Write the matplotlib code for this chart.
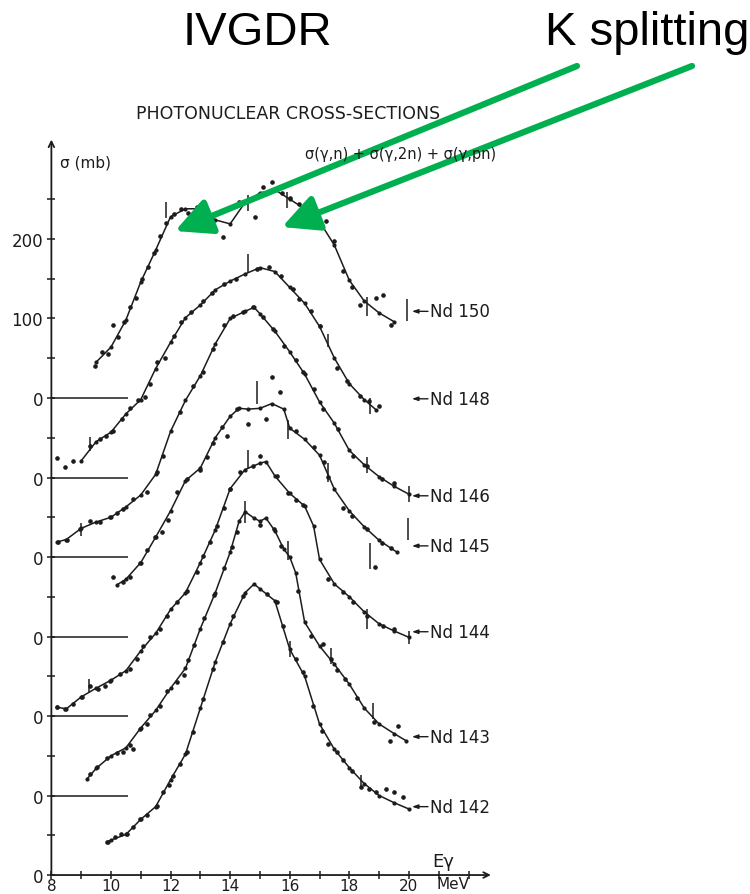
import numpy as np
import matplotlib
matplotlib.use('Agg')
import matplotlib.pyplot as plt

# Photonuclear cross sections sigma(g,n)+sigma(g,2n)+sigma(g,pn) for the Nd isotopes.
# Each isotope is stacked 100 mb above the previous one.

# Nd 142 (offset 0 mb)
nd142_E = [9.9, 10.0, 10.5, 11.0, 11.5, 12.0, 12.5, 13.0, 13.5, 14.0, 14.5, 14.8, 15.0,
           15.5, 16.0, 16.5, 17.0, 17.5, 18.0, 18.5, 19.0, 19.5, 20.0]
nd142_sig = [42, 44, 51, 70, 86, 120, 152, 210, 268, 316, 355, 366, 360,
             345, 284, 250, 190, 158, 135, 115, 100, 91, 83]
nd142_dots_E = [9.87, 10.13, 10.35, 10.54, 10.75, 10.97, 11.2, 11.54, 11.74, 11.95, 12.08, 12.3,
                12.55, 12.75, 13.09, 13.42, 13.76, 14.1, 14.43, 15.23, 15.57, 15.77, 16.2,
                16.44, 16.78, 17.07, 17.3, 17.57, 17.8, 18.1, 18.4, 18.67, 18.9, 19.23, 19.5, 19.8]
nd142_dots_sig = [42, 48, 51, 52, 60, 70, 76, 87, 104, 113, 125, 140,
                  155, 180, 221, 259, 293, 326, 351, 353, 343, 313, 272,
                  255, 213, 181, 165, 155, 145, 131, 111, 108, 105, 108, 104, 98]
nd142_err_E = [16.0, 18.4]
nd142_err_sig = [284, 118]
nd142_err = [10, 8]

# Nd 143 (offset 100 mb)
nd143_E = [9.2, 9.5, 10.0, 10.5, 11.0, 11.5, 12.0, 12.5, 13.0, 13.5, 14.0, 14.3, 14.5, 14.8,
           15.0, 15.2, 15.5, 15.8, 16.0, 16.2, 16.5, 17.0, 17.5, 18.0, 18.5, 19.0, 19.5, 19.9]
nd143_sig = [21, 34, 50, 60, 85, 107, 135, 160, 210, 255, 306, 345, 357, 349,
             345, 349, 333, 310, 300, 280, 218, 188, 165, 140, 110, 90, 78, 69]
nd143_dots_E = [9.3, 9.53, 9.87, 10.2, 10.4, 10.64, 10.75, 10.97, 11.2, 11.31, 11.64, 11.88,
                12.2, 12.45, 12.6, 12.8, 13.12, 13.47, 13.8, 14.05, 14.23, 15.0, 15.47, 15.7,
                16.27, 16.7, 17.1, 17.37, 17.6, 17.84, 18.27, 18.84, 19.36, 19.63]
nd143_dots_sig = [27, 36, 47, 53, 55, 63, 59, 84, 90, 101, 113, 131,
                  143, 151, 170, 189, 223, 252, 286, 312, 332, 340, 335, 314,
                  257, 201, 190, 172, 158, 147, 123, 93, 68, 88]
nd143_err_E = [14.5, 15.94, 17.37, 18.8]
nd143_err_sig = [357, 308, 176, 106]
nd143_err = [14, 12, 10, 10]

# Nd 144 (offset 200 mb)
nd144_E = [8.2, 8.5, 9.0, 9.5, 10.0, 10.5, 11.0, 11.5, 12.0, 12.5, 13.0, 13.5, 14.0, 14.5,
           15.0, 15.2, 15.5, 16.0, 16.5, 16.8, 17.0, 17.5, 18.0, 18.5, 19.0, 19.5, 20.0]
nd144_sig = [11, 9, 24, 35, 45, 57, 82, 104, 134, 155, 193, 234, 286, 310,
             318, 320, 302, 280, 264, 239, 197, 166, 150, 131, 116, 107, 99]
nd144_dots_E = [8.19, 8.46, 8.72, 9.03, 9.3, 9.56, 9.8, 9.97, 10.3, 10.64, 10.87, 11.07, 11.31,
                11.64, 11.88, 12.2, 12.55, 12.9, 13.09, 13.32, 13.56, 13.8, 14.0, 14.33,
                14.77, 15.0, 15.57, 15.94, 16.2, 16.44, 17.3, 17.8, 18.13, 18.6, 19.14, 19.5]
nd144_dots_sig = [11, 9, 15, 24, 38, 34, 38, 44, 53, 59, 72, 88, 99,
                  109, 126, 143, 157, 181, 201, 219, 239, 262, 285, 307,
                  314, 327, 302, 280, 272, 265, 172, 156, 143, 126, 113, 110]
nd144_err_E = [9.26, 14.6, 18.6, 20.0]
nd144_err_sig = [38, 323, 122, 99]
nd144_err = [9, 12, 12, 8]

# Nd 145 (offset 300 mb)
nd145_E = [10.2, 10.5, 11.0, 11.5, 12.0, 12.5, 13.0, 13.5, 14.0, 14.3, 14.6, 15.0, 15.4,
           15.8, 16.0, 16.5, 17.0, 17.5, 18.0, 18.5, 19.0, 19.6]
nd145_sig = [65, 72, 93, 125, 158, 196, 212, 250, 277, 287, 286, 287, 293,
             286, 262, 248, 228, 185, 158, 138, 121, 106]
nd145_dots_E = [10.07, 10.4, 10.64, 10.97, 11.2, 11.48, 11.7, 11.9, 12.2, 12.55, 12.99, 13.22,
                13.42, 13.72, 13.9, 14.23, 14.6, 15.2, 15.4, 15.67, 16.2, 16.8, 17.16, 17.3,
                17.8, 18.1, 18.6, 18.85, 19.1, 19.4]
nd145_dots_sig = [75, 68, 75, 93, 109, 125, 131, 147, 182, 198, 210, 226,
                  244, 264, 252, 286, 267, 273, 327, 308, 258, 238, 219, 201,
                  162, 152, 135, 87, 118, 111]
nd145_err_E = [14.9, 15.95, 17.3, 18.7, 19.97]
nd145_err_sig = [307, 260, 206, 101, 135]
nd145_err = [14, 12, 12, 16, 14]

# Nd 146 (offset 400 mb)
nd146_E = [8.2, 8.5, 9.0, 9.5, 10.0, 10.5, 11.0, 11.5, 12.0, 12.5, 13.0, 13.5, 14.0, 14.5,
           14.8, 15.0, 15.5, 16.0, 16.5, 17.0, 17.5, 18.0, 18.5, 19.0, 19.5, 20.0]
nd146_sig = [19, 22, 36, 44, 50, 63, 78, 104, 158, 197, 228, 268, 300, 309,
             314, 306, 284, 258, 230, 195, 168, 134, 116, 101, 89, 79]
nd146_dots_E = [8.22, 8.52, 8.96, 9.3, 9.63, 9.97, 10.2, 10.4, 10.74, 11.2, 11.54, 11.74, 12.32,
                12.75, 13.09, 13.42, 13.8, 14.1, 14.43, 14.77, 15.1, 15.45, 15.8, 16.2,
                16.44, 16.8, 17.1, 17.63, 18.12, 18.6, 19.1, 19.5]
nd146_dots_sig = [19, 21, 35, 45, 44, 50, 55, 60, 73, 82, 107, 127, 182,
                  215, 233, 262, 292, 303, 308, 314, 302, 287, 265, 248,
                  233, 211, 186, 161, 127, 114, 98, 93]
nd146_err_E = [9.0, 18.6, 20.0]
nd146_err_sig = [35, 116, 79]
nd146_err = [8, 10, 10]

# Nd 148 (offset 500 mb)
nd148_E = [9.0, 9.5, 10.0, 10.5, 11.0, 11.5, 12.0, 12.5, 13.0, 13.5, 14.0, 14.5, 15.0,
           15.5, 16.0, 16.5, 17.0, 17.5, 18.0, 18.5, 18.9]
nd148_sig = [21, 45, 57, 80, 98, 137, 170, 201, 217, 236, 247, 256, 264,
             259, 239, 219, 190, 150, 118, 98, 85]
nd148_dots_E = [8.19, 8.46, 8.72, 9.3, 9.63, 9.85, 10.07, 10.37, 10.65, 10.92, 11.14, 11.32,
                11.56, 11.8, 12.1, 12.35, 12.7, 13.1, 13.4, 13.8, 14.2, 14.9, 15.3, 15.7,
                16.1, 16.3, 16.7, 17.0, 17.6, 17.93, 18.36, 18.65, 19.0]
nd148_dots_sig = [25, 13, 21, 40, 49, 52, 59, 74, 88, 97, 101, 118,
                  145, 150, 178, 195, 208, 222, 232, 244, 250, 262, 265, 254,
                  237, 225, 210, 190, 138, 122, 103, 96, 90]
nd148_err_E = [9.3, 14.6, 17.3, 18.7]
nd148_err_sig = [42, 269, 172, 90]
nd148_err = [9, 12, 8, 10]

# Nd 150 (offset 600 mb)
nd150_E = [9.5, 10.0, 10.5, 11.0, 11.5, 12.0, 12.5, 13.0, 13.5, 14.0, 14.5, 15.0, 15.5,
           16.0, 16.5, 17.0, 17.5, 18.0, 18.5, 19.0, 19.5]
nd150_sig = [45, 64, 98, 146, 186, 228, 238, 238, 224, 219, 246, 258, 262,
             250, 238, 222, 192, 148, 122, 107, 96]
nd150_dots_E = [9.45, 9.7, 9.9, 10.07, 10.25, 10.45, 10.65, 10.85, 11.05, 11.25, 11.45, 11.65,
                11.85, 12.1, 12.35, 12.6, 12.9, 13.2, 13.76, 14.3, 14.83, 15.1, 15.4, 15.75,
                16.0, 16.3, 16.6, 16.9, 17.2, 17.5, 17.8, 18.1, 18.36, 18.9, 19.14, 19.4]
nd150_dots_sig = [40, 58, 55, 92, 77, 96, 114, 126, 150, 165, 182, 204,
                  220, 232, 238, 233, 240, 232, 203, 246, 228, 265, 272, 258,
                  252, 244, 238, 232, 222, 197, 160, 140, 117, 126, 130, 92]
nd150_err_E = [11.85, 14.6, 15.9, 18.6, 19.95]
nd150_err_sig = [236, 245, 249, 115, 111]
nd150_err = [10, 10, 10, 12, 14]

# Right-hand labels: isotope name and the height (stacked mb) of its pointer
label_names = ['Nd 142', 'Nd 143', 'Nd 144', 'Nd 145', 'Nd 146', 'Nd 148', 'Nd 150']
label_heights = [86, 174, 306, 414, 477, 599, 709]
offsets = [0, 100, 200, 300, 400, 500, 600]

curves = [
    (nd142_E, nd142_sig, nd142_dots_E, nd142_dots_sig, nd142_err_E, nd142_err_sig, nd142_err),
    (nd143_E, nd143_sig, nd143_dots_E, nd143_dots_sig, nd143_err_E, nd143_err_sig, nd143_err),
    (nd144_E, nd144_sig, nd144_dots_E, nd144_dots_sig, nd144_err_E, nd144_err_sig, nd144_err),
    (nd145_E, nd145_sig, nd145_dots_E, nd145_dots_sig, nd145_err_E, nd145_err_sig, nd145_err),
    (nd146_E, nd146_sig, nd146_dots_E, nd146_dots_sig, nd146_err_E, nd146_err_sig, nd146_err),
    (nd148_E, nd148_sig, nd148_dots_E, nd148_dots_sig, nd148_err_E, nd148_err_sig, nd148_err),
    (nd150_E, nd150_sig, nd150_dots_E, nd150_dots_sig, nd150_err_E, nd150_err_sig, nd150_err),
]

ink = '#1c1c1c'
green = '#00b050'
plt.rcParams['font.family'] = ['DejaVu Sans']

fig = plt.figure(figsize=(7.5, 8.95), dpi=100)
ax = fig.add_axes([0.0685, 0.0212, 0.586, 0.8217])
ax.set_xlim(8, 22.75)
ax.set_ylim(0, 925)

# Curves, data points and error bars, each shifted by its offset
for (E, sig, dE, dsig, eE, esig, err), off in zip(curves, offsets):
    sig = np.asarray(sig) + off
    ax.plot(E, sig, color=ink, lw=1.1, marker='o', ms=2.0, zorder=3)
    ax.plot(dE, np.asarray(dsig) + off, ls='none', marker='o', ms=2.3, color=ink, zorder=3)
    esig = np.asarray(esig) + off
    err = np.asarray(err)
    ax.vlines(eE, esig - err, esig + err, color=ink, lw=1.1, zorder=3)

# Zero lines for the shifted curves
ax.hlines(offsets[1:], 8, 10.57, color=ink, lw=1.1)

# Axes drawn as arrows
for s in ax.spines.values():
    s.set_visible(False)
ax.annotate('', xy=(22.75, 0), xytext=(8, 0), annotation_clip=False,
            arrowprops=dict(arrowstyle='->', lw=1.3, color=ink, shrinkA=0, shrinkB=0))
ax.annotate('', xy=(8, 925), xytext=(8, 0), annotation_clip=False,
            arrowprops=dict(arrowstyle='->', lw=1.3, color=ink, shrinkA=0, shrinkB=0))

ax.set_xticks([8, 10, 12, 14, 16, 18, 20])
ax.set_xticklabels(['8', '10', '12', '14', '16', '18', '20'])
ax.set_xticks([9, 11, 13, 15, 17, 19, 21, 22], minor=True)
ax.set_yticks([0, 100, 200, 300, 400, 500, 600, 700, 800])
ax.set_yticklabels(['0', '0', '0', '0', '0', '0', '0', '100', '200'])
ax.set_yticks([50, 150, 250, 350, 450, 550, 650, 750, 850], minor=True)
ax.tick_params(which='both', direction='inout', length=6, width=1.1, color=ink,
               labelsize=12, labelcolor=ink)
ax.tick_params(axis='x', which='both', pad=-1, labelsize=11)
ax.tick_params(axis='y', which='both', pad=3)

# Isotope labels with small pointers
for name, h in zip(label_names, label_heights):
    ax.annotate('', xy=(20.1, h), xytext=(20.64, h), annotation_clip=False,
                arrowprops=dict(arrowstyle='-|>,head_length=0.35,head_width=0.12',
                                lw=1.0, color=ink, shrinkA=0, shrinkB=0))
    ax.text(20.72, h, name, fontsize=12, color=ink, va='center', ha='left')

# Titles and axis texts
fig.text(288 / 750, 1 - 114 / 895, 'PHOTONUCLEAR CROSS-SECTIONS', fontsize=12.5,
         color=ink, ha='center', va='center')
fig.text(60 / 750, 1 - 163 / 895, 'σ (mb)', fontsize=11, color=ink, ha='left', va='center')
fig.text(305 / 750, 1 - 155 / 895, 'σ(γ,n) + σ(γ,2n) + σ(γ,pn)', fontsize=10.5,
         color=ink, ha='left', va='center')
fig.text(432 / 750, 1 - 862 / 895, 'Eγ', fontsize=13, color=ink, ha='left', va='center')
fig.text(437 / 750, 1 - 885 / 895, 'MeV', fontsize=11, color=ink, ha='left', va='center')

# Big annotations
fig.text(183 / 750, 1 - 45 / 895, 'IVGDR', fontsize=34, family='Liberation Sans',
         color='black', ha='left', va='baseline')
fig.text(545 / 750, 1 - 45 / 895, 'K splitting', fontsize=34, family='Liberation Sans',
         color='black', ha='left', va='baseline')

arrow_kw = dict(arrowstyle='-|>,head_length=1.0,head_width=0.5', lw=4.5, color=green,
                shrinkA=0, shrinkB=0, mutation_scale=22)
ax.annotate('', xy=(12.15, 810), xycoords='data',
            xytext=(577 / 750, 1 - 67 / 895), textcoords='figure fraction',
            arrowprops=arrow_kw, annotation_clip=False)
ax.annotate('', xy=(15.74, 815), xycoords='data',
            xytext=(692 / 750, 1 - 67 / 895), textcoords='figure fraction',
            arrowprops=arrow_kw, annotation_clip=False)

fig.savefig('out.png', dpi=100, facecolor='white')
